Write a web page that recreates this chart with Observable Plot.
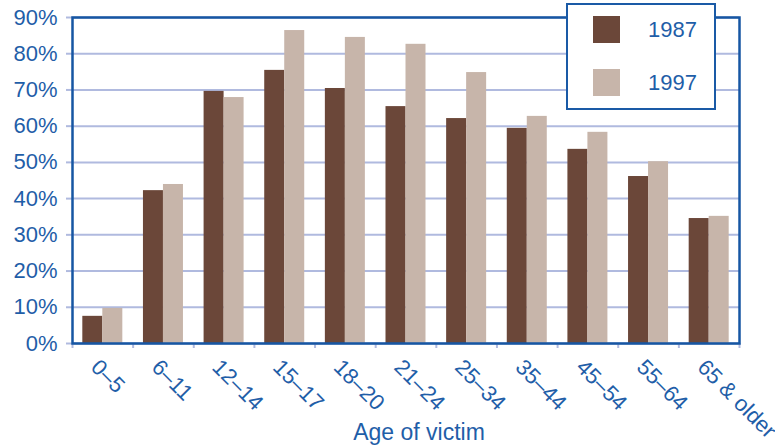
<!DOCTYPE html>
<html>
<head>
<meta charset="utf-8">
<script src="https://cdn.jsdelivr.net/npm/d3@7"></script>
<script src="https://cdn.jsdelivr.net/npm/@observablehq/plot@0.6"></script>
<style>
  html, body { margin: 0; padding: 0; background: #fff; }
  #wrap { position: relative; width: 775px; height: 446px; font-family: "Liberation Sans", Arial, sans-serif; overflow: hidden; }
  #legend { position: absolute; left: 566px; top: 3px; width: 146px; height: 103px; border: 2px solid #1a5aa6; background: #fff; }
  .sw { width: 27px; height: 27px; }
  .lab { position: absolute; left: 80px; font-size: 22px; color: #1f5ea8; white-space: nowrap; }
</style>
</head>
<body>
<div id="wrap"></div>
<script>
const categories = ["0–5", "6–11", "12–14", "15–17", "18–20", "21–24", "25–34", "35–44", "45–54", "55–64", "65 & older"];
const series = ["1987", "1997"];
const values1987 = [7.5, 42.2, 69.6, 75.4, 70.4, 65.4, 62.1, 59.4, 53.6, 46.1, 34.5];
const values1997 = [9.7, 43.9, 67.9, 86.4, 84.5, 82.6, 74.8, 62.7, 58.3, 50.2, 35.1];
const yTicks = [0, 10, 20, 30, 40, 50, 60, 70, 80, 90];
const xTitle = "Age of victim";
const colors = ["#6b4739", "#c7b5aa"];

const blue = "#1f5ea8";
const frameBlue = "#1656a3";
const gridColor = "#b0badf";

const width = 775, height = 446;
const marginLeft = 72, marginRight = 36, marginTop = 17, marginBottom = 103;
const band = (width - marginLeft - marginRight) / categories.length;
const half = band / 2;
const barW = 20;

const data = [];
categories.forEach((c, i) => {
  data.push({cat: c, year: series[0], v: values1987[i]});
  data.push({cat: c, year: series[1], v: values1997[i]});
});

const chart = Plot.plot({
  width, height, marginLeft, marginRight, marginTop, marginBottom,
  style: {fontFamily: "'Liberation Sans', Arial, sans-serif", fontSize: "22px", background: "#fff"},
  x: {type: "band", domain: categories, padding: 0, round: false},
  y: {domain: [0, 90]},
  color: {domain: series, range: colors},
  marks: [
    Plot.gridY(yTicks, {stroke: gridColor, strokeOpacity: 1, strokeWidth: 2}),
    Plot.axisY(yTicks, {tickSize: 6, tickPadding: 9, stroke: gridColor, strokeOpacity: 1, strokeWidth: 2,
      fill: blue, fontSize: 22, tickFormat: d => d + "%", label: null}),
    Plot.barY(data.filter(d => d.year === series[0]), {x: "cat", y: "v", fill: colors[0],
      insetLeft: half - barW, insetRight: half}),
    Plot.barY(data.filter(d => d.year === series[1]), {x: "cat", y: "v", fill: colors[1],
      insetLeft: half, insetRight: half - barW}),
    Plot.axisX(categories, {tickSize: 5, fill: "none", stroke: gridColor, strokeWidth: 2, dx: -half, label: null}),
    Plot.axisX([categories[categories.length - 1]], {tickSize: 5, fill: "none", stroke: gridColor, strokeWidth: 2, dx: half, label: null}),
    Plot.axisX(categories, {tickSize: 0, tickPadding: 14, tickRotate: 45, fill: blue, fontSize: 22,
      dx: -8, dy: 6, label: null}),
    Plot.text([xTitle], {frameAnchor: "bottom", dx: 13, dy: 96, text: d => d, fill: blue, fontSize: 23}),
    Plot.frame({stroke: frameBlue, strokeWidth: 2.5})
  ]
});
document.getElementById("wrap").appendChild(chart);

const legend = document.createElement("div");
legend.id = "legend";
series.forEach((s, i) => {
  const sw = document.createElement("div");
  sw.className = "sw";
  sw.style.position = "absolute";
  sw.style.left = "25px";
  sw.style.top = (11 + i * 53) + "px";
  sw.style.background = colors[i];
  legend.appendChild(sw);
  const lab = document.createElement("div");
  lab.className = "lab";
  lab.style.top = (11 + i * 53) + "px";
  lab.style.lineHeight = "27px";
  lab.textContent = s;
  legend.appendChild(lab);
});
document.getElementById("wrap").appendChild(legend);
</script>
</body>
</html>
